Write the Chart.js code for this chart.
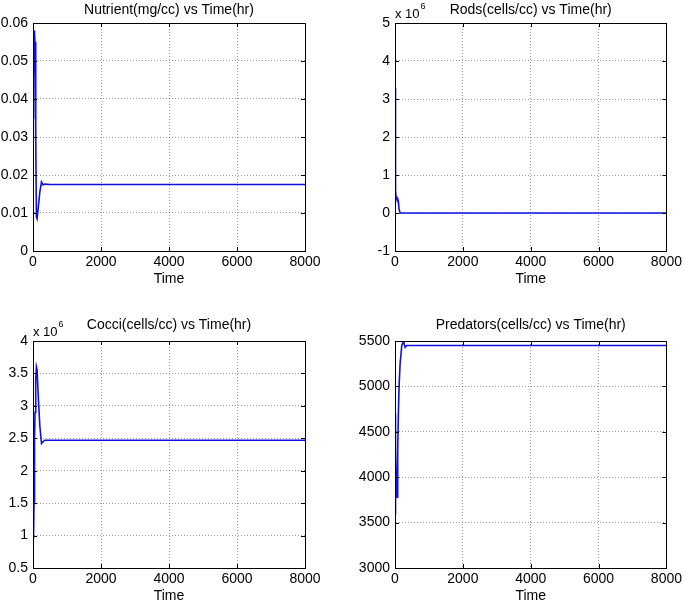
<!DOCTYPE html>
<html>
<head>
<meta charset="utf-8">
<script src="https://cdn.jsdelivr.net/npm/chart.js@4.4.1/dist/chart.umd.min.js"></script>
<style>
  html, body { margin: 0; padding: 0; background: #fff; }
  #wrap { position: relative; width: 685px; height: 607px; overflow: hidden; }
  #wrap canvas { position: absolute; }
</style>
</head>
<body>
<div id="wrap">
  <canvas id="nutrient" width="330" height="291" style="left:0;top:0"></canvas>
  <canvas id="rods" width="345" height="291" style="left:340px;top:0"></canvas>
  <canvas id="cocci" width="330" height="290" style="left:0;top:318px"></canvas>
  <canvas id="predators" width="345" height="290" style="left:340px;top:318px"></canvas>
</div>
<script>
// time samples (hr) shared by all four runs
const TIME = [0, 10, 20, 30, 40, 50, 60, 80, 100, 120, 150, 200, 250, 300, 350, 500, 8000];

// values
const NUTRIENT = [0.035, 0.058, 0.045, 0.058, 0.05, 0.057, 0.055, 0.03, 0.009, 0.0085, 0.011, 0.0155, 0.0182, 0.0174, 0.0176, 0.0175, 0.0175];
const RODS = [3.3e6, 2.2e6, 0.6e6, 0.45e6, 0.4e6, 0.42e6, 0.4e6, 0.38e6, 0.3e6, 0.1e6, 0, 0, 0, 0, 0, 0, 0];
const COCCI = [1.0e6, 0.95e6, 0.95e6, 1.5e6, 2.0e6, 2.5e6, 2.9e6, 3.4e6, 3.6e6, 3.55e6, 3.2e6, 2.7e6, 2.42e6, 2.45e6, 2.47e6, 2.47e6, 2.47e6];
const PREDATORS = [3600, 4700, 4300, 4100, 3900, 3800, 3780, 4300, 4700, 5000, 5250, 5450, 5495, 5430, 5450, 5450, 5450];

// axis ranges [min, max, step]
const X_RANGE = [0, 8000, 2000];
const NUTRIENT_RANGE = [0, 0.06, 0.01];
const RODS_RANGE = [-1e6, 5e6, 1e6];
const COCCI_RANGE = [0.5e6, 4e6, 0.5e6];
const PREDATORS_RANGE = [3000, 5500, 500];

const FONT = "'Liberation Sans', Arial, sans-serif";

// box around plot area, small inward ticks, title centred on the axes,
// and the "x 10^6" multiplier label - matlab style
const framePlugin = {
  id: "frame",
  afterDraw(chart) {
    const { ctx, chartArea: a, scales } = chart;
    const opts = chart.options.plugins.frame;
    ctx.save();
    ctx.strokeStyle = "#000";
    ctx.lineWidth = 1;
    ctx.strokeRect(Math.round(a.left) + 0.5, Math.round(a.top) + 0.5,
      Math.round(a.right - a.left), Math.round(a.bottom - a.top));
    ctx.beginPath();
    scales.x.ticks.forEach(t => {
      const px = Math.round(scales.x.getPixelForValue(t.value)) + 0.5;
      ctx.moveTo(px, a.bottom); ctx.lineTo(px, a.bottom - 4);
      ctx.moveTo(px, a.top); ctx.lineTo(px, a.top + 4);
    });
    scales.y.ticks.forEach(t => {
      const py = Math.round(scales.y.getPixelForValue(t.value)) + 0.5;
      ctx.moveTo(a.left, py); ctx.lineTo(a.left + 4, py);
      ctx.moveTo(a.right, py); ctx.lineTo(a.right - 4, py);
    });
    ctx.stroke();

    ctx.fillStyle = "#000";
    ctx.font = "14px " + FONT;
    ctx.textAlign = "center";
    ctx.textBaseline = "middle";
    ctx.fillText(opts.title, (a.left + a.right) / 2, a.top - opts.titleGap);

    if (opts.exponent) {
      ctx.textBaseline = "alphabetic";
      ctx.textAlign = "left";
      ctx.font = "13px " + FONT;
      ctx.fillText("x 10", a.left, a.top - 5);
      const w = ctx.measureText("x 10").width;
      ctx.font = "9px " + FONT;
      ctx.fillText(opts.exponent, a.left + w + 1, a.top - 14);
    }
    ctx.restore();
  }
};

function makeChart(id, title, values, range, divisor, yWidth, padRight, exponent, titleGap) {
  const points = TIME.map((t, i) => ({ x: t, y: values[i] }));
  return new Chart(document.getElementById(id), {
    type: "line",
    data: {
      datasets: [{
        data: points,
        borderColor: "#1010e0",
        borderWidth: 1.6,
        pointRadius: 0,
        tension: 0,
        fill: false
      }]
    },
    options: {
      responsive: false,
      animation: false,
      layout: { padding: { left: 0, right: padRight, top: 23, bottom: 0 } },
      plugins: {
        legend: { display: false },
        tooltip: { enabled: false },
        title: { display: false },
        frame: { title: title, exponent: exponent, titleGap: titleGap }
      },
      scales: {
        x: {
          type: "linear",
          min: X_RANGE[0], max: X_RANGE[1],
          ticks: {
            stepSize: X_RANGE[2], color: "#000", padding: 3, maxRotation: 0,
            font: { family: FONT, size: 14 },
            callback: v => String(v)
          },
          grid: { color: "rgba(0,0,0,0.4)", drawTicks: false },
          border: { display: true, color: "#000", dash: [1, 2] },
          title: {
            display: true, text: "Time", color: "#000",
            font: { family: FONT, size: 14 }, padding: { top: 0, bottom: 3 }
          },
          afterFit(scale) { scale.height = 40; }
        },
        y: {
          min: range[0], max: range[1],
          ticks: {
            stepSize: range[2], color: "#000", padding: 5,
            font: { family: FONT, size: 14 },
            callback: v => String(+(v / divisor).toFixed(3))
          },
          grid: { color: "rgba(0,0,0,0.4)", drawTicks: false },
          border: { display: true, color: "#000", dash: [1, 2] },
          afterFit(scale) { scale.width = yWidth; }
        }
      }
    },
    plugins: [framePlugin]
  });
}

makeChart("nutrient", "Nutrient(mg/cc) vs Time(hr)", NUTRIENT, NUTRIENT_RANGE, 1, 33, 25, null, 13);
makeChart("rods", "Rods(cells/cc) vs Time(hr)", RODS, RODS_RANGE, 1e6, 55, 18, "6", 13);
makeChart("cocci", "Cocci(cells/cc) vs Time(hr)", COCCI, COCCI_RANGE, 1e6, 33, 25, "6", 16);
makeChart("predators", "Predators(cells/cc) vs Time(hr)", PREDATORS, PREDATORS_RANGE, 1, 55, 18, null, 16);
</script>
</body>
</html>
